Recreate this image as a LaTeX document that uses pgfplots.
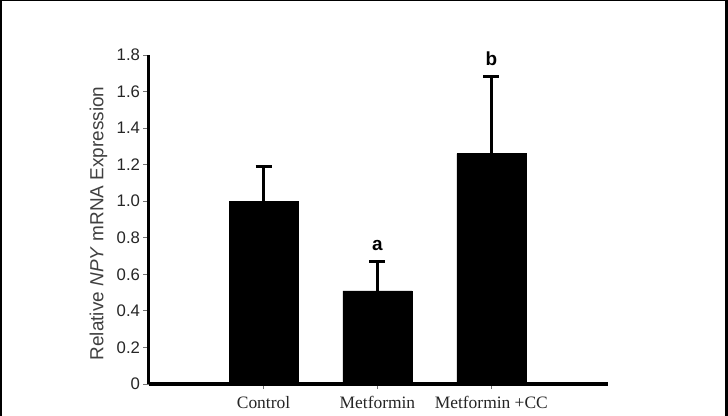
\documentclass[border=0pt]{standalone}
\usepackage{pgfplots}
\pgfplotsset{compat=1.18}
\usepackage{fontspec}
\setmainfont{Liberation Sans}
\newfontfamily\seriffont{Liberation Serif}
\begin{document}
\begin{tikzpicture}
\useasboundingbox (0,0) rectangle (728bp,416bp);
\fill[white] (0,0) rectangle (728bp,416bp);
\begin{axis}[
  at={(148.5bp,32bp)}, anchor=south west,
  scale only axis, width=459bp, height=329bp,
  xmin=-1.01, xmax=3.02, ymin=0, ymax=1.8,
  axis x line=bottom, axis y line=left,
  axis line style={-, line width=3.5bp, black},
  xtick={0,1,2}, xticklabels={Control, Metformin, Metformin +CC},
  xticklabel style={font=\seriffont\fontsize{17.5}{20}\selectfont, text=black!85, yshift=-4bp},
  ytick={0,0.2,0.4,0.6,0.8,1.0,1.2,1.4,1.6,1.8},
  yticklabels={0,0.2,0.4,0.6,0.8,1.0,1.2,1.4,1.6,1.8},
  yticklabel style={font=\fontsize{16.8}{19}\selectfont, text=black!85},
  tick align=outside, major tick length=5bp,
  tick style={black!55, line width=0.8bp},
  ylabel={Relative \textit{NPY} mRNA Expression},
  ylabel style={font=\fontsize{19}{22}\selectfont, text=black!75, at={(axis description cs:-0.109,0.488)}, anchor=center},
  ybar, bar width=69bp,
  clip=false,
]
\addplot[fill=black, draw=black,
  error bars/.cd, y dir=plus, y explicit,
  error bar style={line width=3bp, black},
  error mark options={rotate=90, mark size=8bp, line width=3bp, black}]
coordinates {(0,1.0) +- (0,0.19) (1,0.51) +- (0,0.16) (2,1.26) +- (0,0.42)};
\node[font=\bfseries\fontsize{19}{22}\selectfont] at (axis cs:1,0.76) {a};
\node[font=\bfseries\fontsize{19}{22}\selectfont] at (axis cs:2,1.78) {b};
\end{axis}
\fill[black] (0,0) rectangle (2bp,416bp);
\fill[black] (0,415bp) rectangle (728bp,416bp);
\fill[black] (725bp,0) rectangle (728bp,416bp);
\end{tikzpicture}
\end{document}
